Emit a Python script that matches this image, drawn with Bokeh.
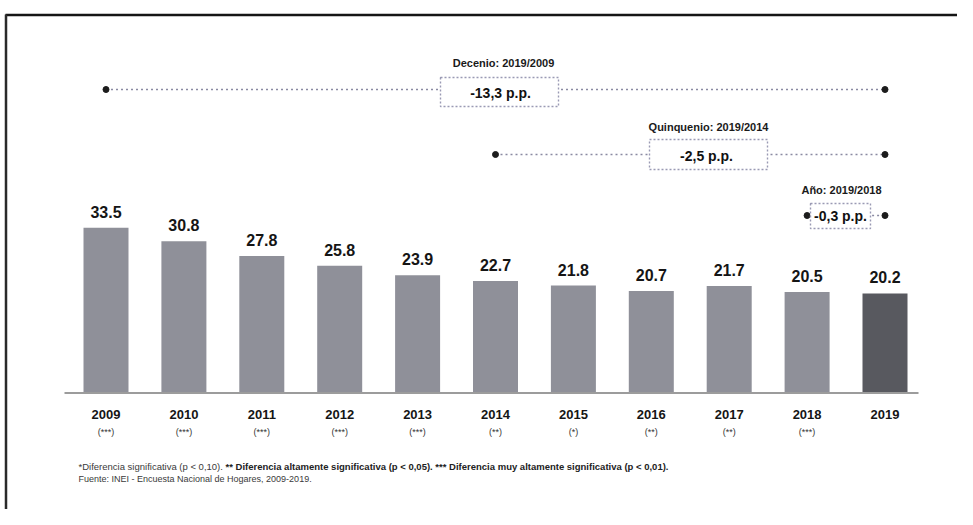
from bokeh.plotting import figure
from bokeh.models import ColumnDataSource, Range1d
from bokeh.core.properties import value
from bokeh.embed import file_html
from bokeh.resources import INLINE

# ---------------- data ----------------
years = [2009, 2010, 2011, 2012, 2013, 2014, 2015, 2016, 2017, 2018, 2019]
rates = [33.5, 30.8, 27.8, 25.8, 23.9, 22.7, 21.8, 20.7, 21.7, 20.5, 20.2]
year_labels = [str(y) for y in years]
signif = ["(***)", "(***)", "(***)", "(***)", "(***)", "(**)", "(*)", "(**)", "(**)", "(***)", ""]

comp_names = ["Decenio: 2019/2009", "Quinquenio: 2019/2014", "Año: 2019/2018"]
comp_start = [2009, 2014, 2018]
comp_end = [2019, 2019, 2019]

note1a = "*Diferencia significativa (p < 0,10)."
note1b = ("** Diferencia altamente significativa (p < 0,05). "
          "*** Diferencia muy altamente significativa (p < 0,01).")
note2 = "Fuente: INEI - Encuesta Nacional de Hogares, 2009-2019."

# ---------------- geometry (picture pixels) ----------------
W, H = 957, 509
X0, DX = 105.5, 77.9      # x of 2009 bar centre, px per year
Y0, SY = 392.5, 4.93      # y of baseline, px per percentage point


def px2x(sx):
    return years[0] + (sx - X0) / DX


def px2y(sy):
    return (Y0 - sy) / SY


p = figure(width=W, height=H, output_backend="svg", toolbar_location=None,
           x_range=Range1d(px2x(0), px2x(W)),
           y_range=Range1d(px2y(H), px2y(0)),
           min_border=0)
p.axis.visible = False
p.grid.visible = False
p.outline_line_color = None
p.background_fill_color = "white"
p.border_fill_color = "white"

FONT = value("Liberation Sans")

# frame of the scanned page
p.segment(x0=[px2x(5)], y0=[px2y(14.5)], x1=[px2x(972)], y1=[px2y(14.5)], line_color="#151515", line_width=2.5)
p.segment(x0=[px2x(5.5)], y0=[px2y(14)], x1=[px2x(5.5)], y1=[px2y(530)], line_color="#2a2a2a", line_width=2.5)

# bars
colors = ["#8f9099"] * (len(years) - 1) + ["#58595f"]
src = ColumnDataSource(dict(x=years, top=rates, color=colors,
                            lab=[f"{v:.1f}" for v in rates],
                            ly=[v + 16 / SY for v in rates],
                            yl=year_labels, sg=signif))
p.vbar(x="x", top="top", bottom=0, width=45 / DX, fill_color="color", line_color=None, source=src)

# baseline
p.segment(x0=[px2x(64)], y0=[0], x1=[px2x(918)], y1=[0], line_color="#9c9c9c", line_width=2)

# value labels
p.text(x="x", y="ly", text="lab", source=src, text_align="center", text_baseline="middle",
       text_font=FONT, text_font_style="bold", text_font_size="16px", text_color="#151515")

# category labels
p.text(x="x", y=px2y(414), text="yl", source=src, text_align="center", text_baseline="middle",
       text_font=FONT, text_font_style="bold", text_font_size="13px", text_color="#151515")
p.text(x="x", y=px2y(431), text="sg", source=src, text_align="center", text_baseline="middle",
       text_font=FONT, text_font_size="9px", text_color="#333333")

# comparison annotations
idx = {y: i for i, y in enumerate(years)}
diffs = [rates[idx[e]] - rates[idx[s]] for s, e in zip(comp_start, comp_end)]
diff_txt = [f"{d:.1f}".replace(".", ",") + " p.p." for d in diffs]

line_y = [89, 154, 215]                 # y of connector lines
label_y = [62, 126, 189]                # y of titles
label_x = [503, 708, 841]
box_l = [440, 649, 810]
box_r = [558, 767, 870]
box_t = [77, 139, 203]
box_b = [106, 169, 228]
txt_x = [500, 706, 840]
txt_y = [92, 155, 215]

p.segment(x0=comp_start, y0=[px2y(v) for v in line_y], x1=comp_end, y1=[px2y(v) for v in line_y],
          line_color="#8a8aa2", line_width=1.6, line_dash="2 3")
p.scatter(x=comp_start + comp_end, y=[px2y(v) for v in line_y] * 2, size=6,
          fill_color="#1c1c1c", line_color="#1c1c1c")
p.quad(left=[px2x(v) for v in box_l], right=[px2x(v) for v in box_r],
       top=[px2y(v) for v in box_t], bottom=[px2y(v) for v in box_b],
       fill_color="white", line_color="#9a9ab4", line_width=1.4, line_dash="2 2")
p.text(x=[px2x(v) for v in txt_x], y=[px2y(v) for v in txt_y], text=diff_txt,
       text_align="center", text_baseline="middle", text_font=FONT, text_font_style="bold",
       text_font_size="14px", text_color="#111111")
p.text(x=[px2x(v) for v in label_x], y=[px2y(v) for v in label_y], text=comp_names,
       text_align="center", text_baseline="middle", text_font=FONT, text_font_style="bold",
       text_font_size="11px", text_color="#1a1a1a")

# footnotes
p.text(x=[px2x(78)], y=[px2y(466)], text=[note1a],
       text_align="left", text_baseline="middle", text_font=FONT,
       text_font_size="9.5px", text_color="#3a3a3a")
p.text(x=[px2x(225)], y=[px2y(466)], text=[note1b],
       text_align="left", text_baseline="middle", text_font=FONT, text_font_style="bold",
       text_font_size="9.5px", text_color="#222222")
p.text(x=[px2x(78)], y=[px2y(478)], text=[note2],
       text_align="left", text_baseline="middle", text_font=FONT,
       text_font_size="9px", text_color="#3a3a3a")

open("out.html", "w").write(file_html(p, INLINE))
